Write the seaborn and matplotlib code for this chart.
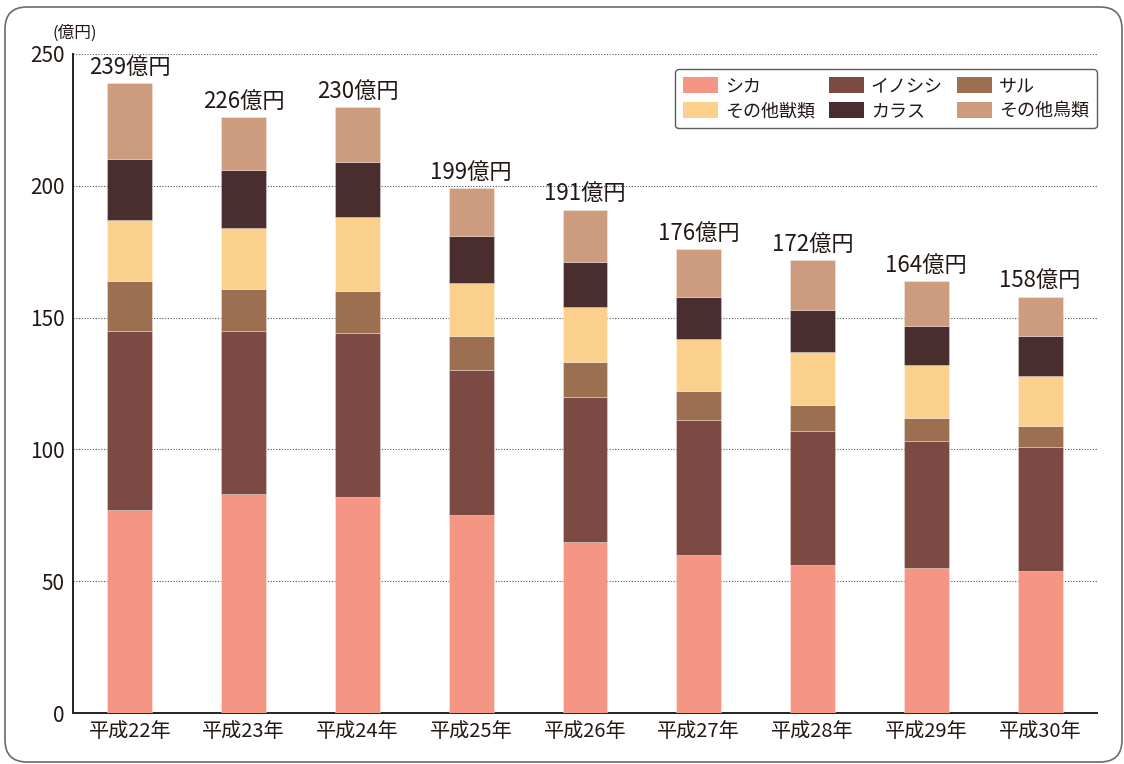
import matplotlib
matplotlib.use("Agg")
import matplotlib.pyplot as plt
from matplotlib.patches import FancyBboxPatch, Patch
import seaborn as sns
import numpy as np

# 野生鳥獣による農作物被害金額（億円）
years = ["平成22年", "平成23年", "平成24年", "平成25年", "平成26年",
         "平成27年", "平成28年", "平成29年", "平成30年"]
shika = [77, 83, 82, 75, 65, 60, 56, 55, 54]
inoshishi = [68, 62, 62, 55, 55, 51, 51, 48, 47]
saru = [19, 16, 16, 13, 13, 11, 10, 9, 8]
sonota_juurui = [23, 23, 28, 20, 21, 20, 20, 20, 19]
karasu = [23, 22, 21, 18, 17, 16, 16, 15, 15]
sonota_chourui = [29, 20, 21, 18, 20, 18, 19, 17, 15]
totals = [239, 226, 230, 199, 191, 176, 172, 164, 158]

series_names = ["シカ", "イノシシ", "サル", "その他獣類", "カラス", "その他鳥類"]
series_values = [shika, inoshishi, saru, sonota_juurui, karasu, sonota_chourui]
series_colors = ["#F59685", "#7C4A43", "#9B6F50", "#FBCF8C", "#4A2E2F", "#CD9B7E"]
y_ticks = [0, 50, 100, 150, 200, 250]

sns.set_theme(style="white")
plt.rcParams["font.family"] = ["Noto Sans CJK JP", "DejaVu Sans"]
text_color = "#231815"

fig = plt.figure(figsize=(11.24, 7.64), dpi=100)
ax = fig.add_axes([73 / 1124, 51 / 764, 1024 / 1124, 659 / 764])

# rounded frame around the whole figure
frame = FancyBboxPatch((0.05, 0.02), 11.17, 7.55,
                       boxstyle="round,pad=0,rounding_size=0.22",
                       transform=fig.dpi_scale_trans, fill=False,
                       edgecolor="#6a6a6a", linewidth=1.2, zorder=0)
fig.patches.append(frame)

# stacked bars
bottom = np.zeros(len(years))
for name, vals, col in zip(series_names, series_values, series_colors):
    sns.barplot(x=years, y=vals, bottom=bottom, color=col, width=0.395,
                edgecolor=(1, 1, 1, 0.35), linewidth=0.6, ax=ax,
                saturation=1, zorder=3)
    bottom = bottom + np.array(vals)

# total labels above each bar
for i, t in enumerate(totals):
    ax.annotate(f"{t}億円", xy=(i, bottom[i]), xytext=(0, 3),
                textcoords="offset points", ha="center", va="bottom",
                fontsize=16, color=text_color, zorder=5)

ax.set_xlim(-0.5, len(years) - 0.5)
ax.set_ylim(0, 250)
ax.set_yticks(y_ticks)
ax.set_yticklabels([str(v) for v in y_ticks], fontsize=15, color=text_color)
ax.set_xticks(range(len(years)))
ax.set_xticklabels(years, fontsize=14.5, color=text_color)
ax.set_xlabel("")
ax.set_ylabel("")

# dotted horizontal gridlines
for v in y_ticks[1:]:
    ax.axhline(v, color="#555555", linestyle=(0, (1, 1.5)), linewidth=0.8, zorder=1)

for side in ["top", "right"]:
    ax.spines[side].set_visible(False)
for side in ["left", "bottom"]:
    ax.spines[side].set_color("#222222")
    ax.spines[side].set_linewidth(1.4)

ax.tick_params(axis="both", which="major", length=0, pad=6)
ax.set_xticks(np.arange(0.5, len(years) - 1, 1.0), minor=True)
ax.set_yticks([250], minor=True)
ax.tick_params(axis="both", which="minor", direction="in", length=6,
               width=1.4, color="#222222")

# unit label
fig.text(75 / 1124, 1 - 33 / 764, "(億円)", ha="center", va="center",
         fontsize=12, color=text_color)

# legend laid out row by row (3 columns)
handles = [Patch(facecolor=c, edgecolor="none") for c in series_colors]
order = [0, 3, 1, 4, 2, 5]
leg = ax.legend([handles[i] for i in order], [series_names[i] for i in order],
                ncol=3, loc="upper right", bbox_to_anchor=(1.0, 0.977),
                borderaxespad=0, fontsize=13, handlelength=1.9,
                handleheight=1.0, handletextpad=0.4, columnspacing=0.8,
                labelspacing=0.35, borderpad=0.45, frameon=True,
                fancybox=True)
leg.get_frame().set_edgecolor("#333333")
leg.get_frame().set_linewidth(1.0)
for txt in leg.get_texts():
    txt.set_color(text_color)

fig.savefig("out.png", dpi=100)
